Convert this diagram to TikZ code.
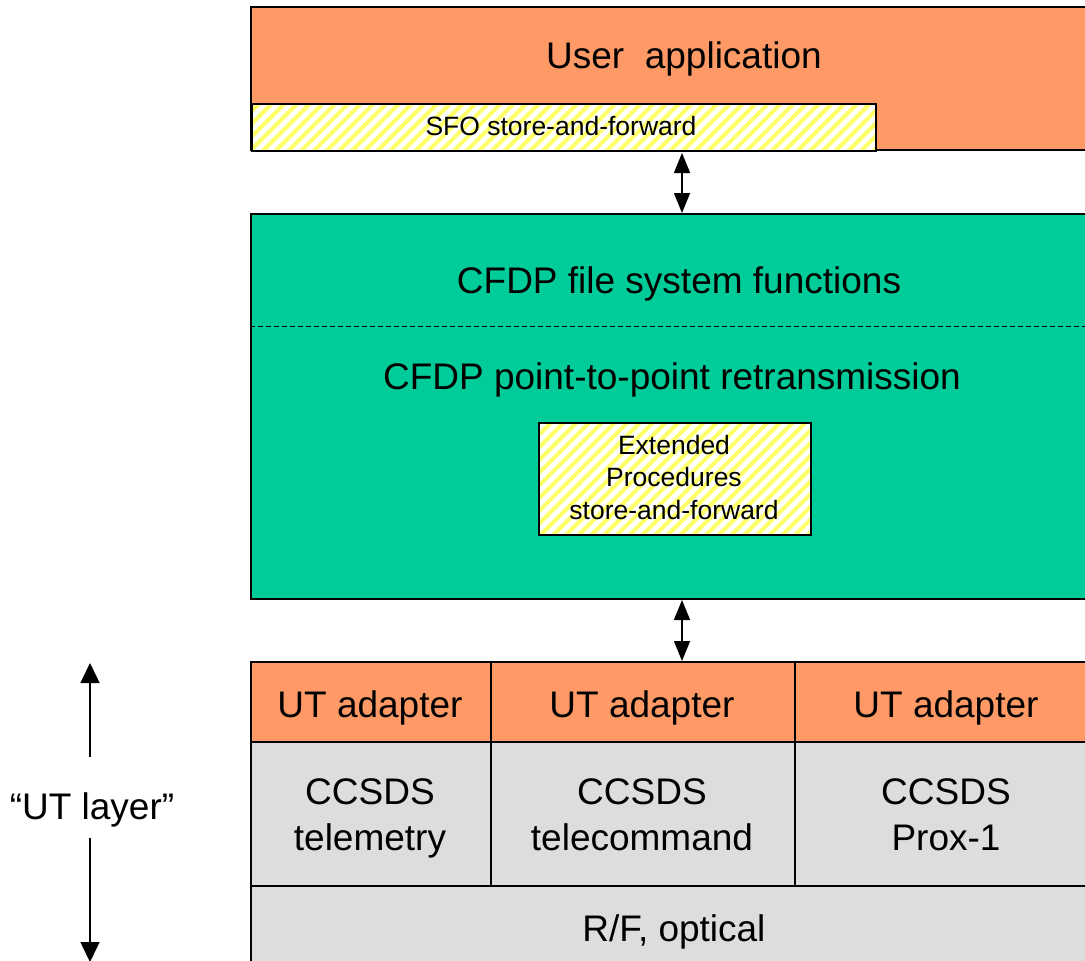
\documentclass[tikz,border=0pt]{standalone}
\usepackage{fontspec}
\setmainfont{Liberation Sans}
\usetikzlibrary{arrows.meta,patterns.meta}
\definecolor{orng}{HTML}{FF9966}
\definecolor{grn}{HTML}{00CC99}
\definecolor{gry}{HTML}{DDDDDD}
\definecolor{ylw}{HTML}{FFFF66}
\begin{document}
\begin{tikzpicture}[x=1pt,y=-1pt,
  box/.style={draw=black,line width=2pt,rectangle,inner sep=0pt,anchor=north west},
  hatch/.style={box,preaction={fill=white},pattern={Lines[angle=45,distance=9pt,line width=4pt]},pattern color=ylw},
  big/.style={font=\fontsize{37}{46}\selectfont,anchor=base,inner sep=0pt,align=center},
  small/.style={font=\fontsize{26.5}{32.5}\selectfont,anchor=base,inner sep=0pt,align=center},
  dbl/.style={{Triangle[length=20pt,width=16pt]}-{Triangle[length=20pt,width=16pt]},line width=1.5pt},
  sgl/.style={-{Triangle[length=20pt,width=19pt]},line width=1.5pt}]
\useasboundingbox (0,0) rectangle (1085,961);
\clip (0,0) rectangle (1085,961);
% top
\node[box,fill=orng,minimum width=848pt,minimum height=143pt] (ua) at (250,6) {};
\node[hatch,minimum width=624pt,minimum height=47pt] (sfo) at (250,102) {};
\node[big] (uat) at (684,68) {User\ \ application};
\node[small] (sfot) at (561,135) {SFO store-and-forward};
% middle
\node[box,fill=grn,minimum width=848pt,minimum height=385pt] (cfdp) at (250,213) {};
\draw[line width=1pt,dash pattern=on 5pt off 3pt] (cfdp.west |- 0,326) coordinate (dl) -- (cfdp.east |- dl);
\node[big] (fst) at (679,293) {CFDP file system functions};
\node[big] (p2p) at (672,389) {CFDP point-to-point retransmission};
\node[hatch,minimum width=272pt,minimum height=112pt] (ext) at (538,422) {};
\node[small] (extt) at (674,519) {Extended\\Procedures\\store-and-forward};
% bottom
\node[box,fill=orng,minimum width=240pt,minimum height=80pt] (ad1) at (250,661) {};
\node[box,fill=orng,minimum width=304pt,minimum height=80pt] (ad2) at (490,661) {};
\node[box,fill=orng,minimum width=304pt,minimum height=80pt] (ad3) at (794,661) {};
\node[box,fill=gry,minimum width=240pt,minimum height=144pt] (cc1) at (250,741) {};
\node[box,fill=gry,minimum width=304pt,minimum height=144pt] (cc2) at (490,741) {};
\node[box,fill=gry,minimum width=304pt,minimum height=144pt] (cc3) at (794,741) {};
\node[box,fill=gry,minimum width=848pt,minimum height=100pt] (rf) at (250,885) {};
\node[big] (ad1t) at (370,717) {UT adapter};
\node[big] (ad2t) at (642,717) {UT adapter};
\node[big] (ad3t) at (946,717) {UT adapter};
\node[big] (cc1t) at (370,850) {CCSDS\\telemetry};
\node[big] (cc2t) at (642,850) {CCSDS\\telecommand};
\node[big] (cc3t) at (946,850) {CCSDS\\Prox-1};
\node[big] (rft) at (674,941) {R/F, optical};
% arrows
\coordinate (ax) at (682,0);
\draw[dbl] (sfo.south -| ax) -- (cfdp.north -| ax);
\draw[dbl] (cfdp.south -| ax) -- (ad2.north -| ax);
% UT layer
\node[big] (ut) at (92,819) {“UT layer”};
\coordinate (utA) at (90,757);
\coordinate (utT) at (90,663);
\coordinate (utB) at (90,838);
\coordinate (utE) at (90,962);
\draw[sgl] (utA) -- (utT);
\draw[sgl] (utB) -- (utE);
\end{tikzpicture}
\end{document}
